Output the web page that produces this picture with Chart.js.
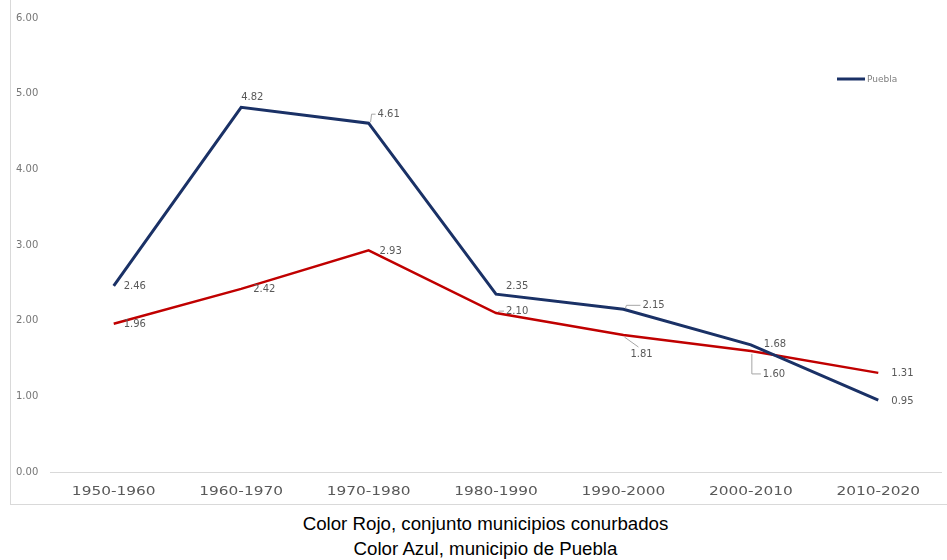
<!DOCTYPE html>
<html>
<head>
<meta charset="utf-8">
<script src="https://cdn.jsdelivr.net/npm/chart.js@4"></script>
<style>
  body { margin: 0; background: #fff; width: 947px; height: 560px; overflow: hidden; position: relative; }
  #box { position: absolute; left: 10px; top: -1px; width: 936px; height: 505px;
         border-left: 1px solid #d9d9d9; border-bottom: 1px solid #d9d9d9; }
  #caption { position: absolute; left: 12px; top: 511px; width: 947px; text-align: center;
             font-family: "Liberation Sans", Arial, sans-serif;
             font-size: 18.7px; line-height: 25px; color: #000; }
</style>
</head>
<body>
<div id="box"><canvas id="chart" width="936" height="505"></canvas></div>
<div id="caption">Color Rojo, conjunto municipios conurbados<br>Color Azul, municipio de Puebla</div>
<script>
// Data
const categories = ['1950-1960', '1960-1970', '1970-1980', '1980-1990', '1990-2000', '2000-2010', '2010-2020'];
const pueblaValues = [2.46, 4.82, 4.61, 2.35, 2.15, 1.68, 0.95];
const conurbadosValues = [1.96, 2.42, 2.93, 2.10, 1.81, 1.60, 1.31];
const yTicks = [0, 1, 2, 3, 4, 5, 6];

// label offsets (dx, dy) from point, and whether a leader line is drawn
const blueLabelPos = [[10, 1], [0, -10], [9, -9], [10, -8], [19, -4], [13, 0], [13, 1]];
const blueLeader = [false, false, true, false, true, false, false];
const redLabelPos = [[10, 1], [12, 1], [11, 1], [10, -2], [7, 19], [12, 23], [13, 1]];
const redLeader = [false, false, false, true, true, true, false];

const blue = '#1a3166';
const red = '#c00000';
const labelFont = '"DejaVu Sans", sans-serif';

const labelPlugin = {
    id: 'pointLabels',
    afterDatasetsDraw(chart) {
        let ctx = chart.ctx;
        ctx.save();
        ctx.font = '10px ' + labelFont;
        ctx.fillStyle = '#595959';
        ctx.textBaseline = 'middle';
        ctx.textAlign = 'left';
        let sets = [[0, blueLabelPos, blueLeader], [1, redLabelPos, redLeader]];
        sets.forEach(function (s) {
            let meta = chart.getDatasetMeta(s[0]);
            let values = chart.data.datasets[s[0]].data;
            meta.data.forEach(function (pt, i) {
                let dx = s[1][i][0], dy = s[1][i][1];
                let tx = pt.x + dx, ty = pt.y + dy;
                if (s[2][i]) {
                    ctx.strokeStyle = '#a6a6a6';
                    ctx.lineWidth = 1;
                    ctx.beginPath();
                    if (Math.abs(dy) > 15) {
                        if (dx > 9) {
                            // vertical drop then short horizontal
                            ctx.moveTo(pt.x + 1, pt.y + 3);
                            ctx.lineTo(pt.x + 1, ty);
                            ctx.lineTo(tx - 2, ty);
                        } else {
                            ctx.moveTo(pt.x + 1, pt.y + 2);
                            ctx.lineTo(tx + 8, ty - 7);
                        }
                    } else {
                        ctx.moveTo(pt.x + 2, pt.y - 1);
                        ctx.lineTo(pt.x + 3, ty);
                        ctx.lineTo(tx - 2, ty);
                    }
                    ctx.stroke();
                }
                ctx.fillText(values[i].toFixed(2), tx, ty);
            });
        });

        // x axis labels, drawn a bit wider like the original
        let xScale = chart.scales.x;
        ctx.font = '12px ' + labelFont;
        ctx.textAlign = 'center';
        chart.data.labels.forEach(function (lab, i) {
            ctx.save();
            ctx.translate(xScale.getPixelForTick(i), chart.chartArea.bottom + 20);
            ctx.scale(1.28, 1);
            ctx.fillText(lab, 0, 0);
            ctx.restore();
        });

        // legend: only Puebla
        let lx = chart.chartArea.right - 105;
        let ly = 80;
        ctx.strokeStyle = blue;
        ctx.lineWidth = 3;
        ctx.beginPath();
        ctx.moveTo(lx, ly);
        ctx.lineTo(lx + 28, ly);
        ctx.stroke();
        ctx.font = '9px ' + labelFont;
        ctx.textAlign = 'left';
        ctx.fillStyle = '#7f7f7f';
        ctx.fillText('Puebla', lx + 30, ly + 1);
        ctx.restore();
    }
};

new Chart(document.getElementById('chart'), {
    type: 'line',
    data: {
        labels: categories,
        datasets: [{
            label: 'Puebla',
            data: pueblaValues,
            borderColor: blue,
            borderWidth: 3,
            pointRadius: 0,
            tension: 0
        }, {
            label: 'Conjunto municipios conurbados',
            data: conurbadosValues,
            borderColor: red,
            borderWidth: 2.5,
            pointRadius: 0,
            tension: 0
        }]
    },
    options: {
        responsive: false,
        animation: false,
        layout: { padding: { top: 19, right: 5, left: 5, bottom: 0 } },
        plugins: {
            legend: { display: false },
            tooltip: { enabled: false }
        },
        scales: {
            x: {
                offset: true,
                grid: { display: false },
                border: { display: false },
                ticks: { display: false },
                afterFit: function (scale) { scale.height = 32; }
            },
            y: {
                min: 0,
                max: 6,
                afterBuildTicks: function (scale) {
                    scale.ticks = yTicks.map(function (v) { return { value: v }; });
                },
                grid: {
                    drawTicks: false,
                    color: function (c) { return c.tick.value === 0 ? '#d9d9d9' : 'rgba(0,0,0,0)'; }
                },
                border: { display: false },
                ticks: {
                    color: '#767676',
                    crossAlign: 'far',
                    padding: 4,
                    font: { size: 10, family: labelFont },
                    callback: function (v) { return Number(v).toFixed(2); }
                },
                afterFit: function (scale) { scale.width = 34; }
            }
        }
    },
    plugins: [labelPlugin]
});
</script>
</body>
</html>
